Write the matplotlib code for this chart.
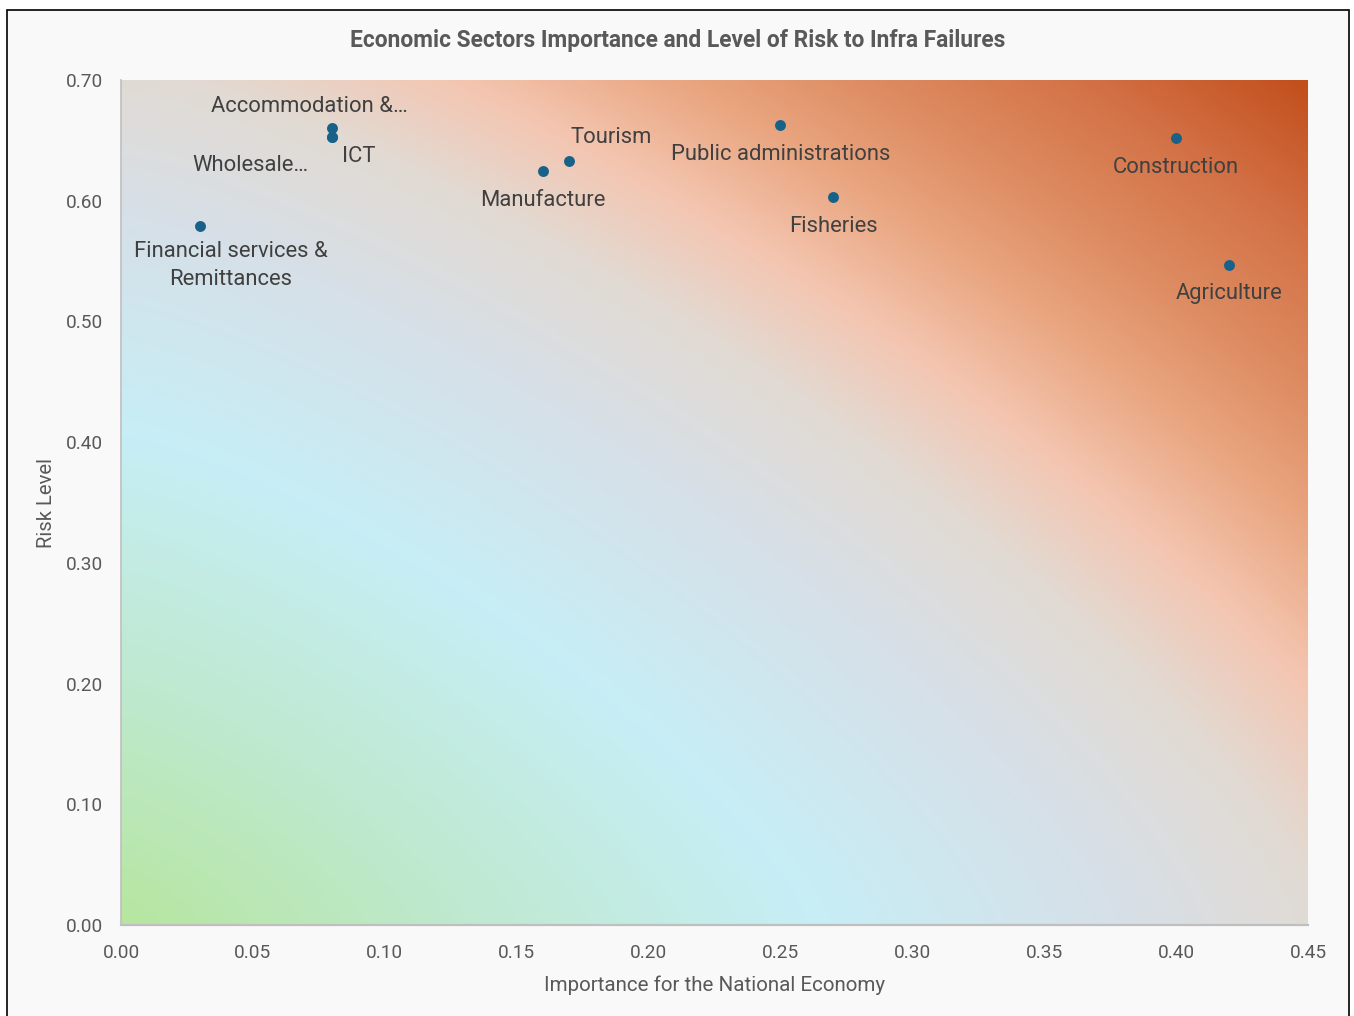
import numpy as np
import matplotlib
matplotlib.use("Agg")
import matplotlib.pyplot as plt
from matplotlib.colors import LinearSegmentedColormap
from matplotlib.patches import Rectangle

# ---- data -------------------------------------------------------------
sectors = [
    "Accommodation &…",
    "Wholesale…",
    "ICT",
    "Financial services &\nRemittances",
    "Manufacture",
    "Tourism",
    "Public administrations",
    "Fisheries",
    "Construction",
    "Agriculture",
]
importance = [0.08, 0.08, 0.08, 0.03, 0.16, 0.17, 0.25, 0.27, 0.40, 0.42]
risk = [0.660, 0.653, 0.653, 0.579, 0.625, 0.633, 0.663, 0.603, 0.652, 0.547]

x_ticks = [0.00, 0.05, 0.10, 0.15, 0.20, 0.25, 0.30, 0.35, 0.40, 0.45]
y_ticks = [0.00, 0.10, 0.20, 0.30, 0.40, 0.50, 0.60, 0.70]

title = "Economic Sectors Importance and Level of Risk to Infra Failures"
x_label = "Importance for the National Economy"
y_label = "Risk Level"

# label placement (offset in points from each marker)
label_offsets = {
    "Accommodation &…": (-16, 16),
    "Wholesale…": (-59, -21),
    "ICT": (19, -14.5),
    "Financial services &\nRemittances": (22, -28.5),
    "Manufacture": (0, -21.5),
    "Tourism": (30, 16.5),
    "Public administrations": (0, -21.5),
    "Fisheries": (0, -21),
    "Construction": (0, -21),
    "Agriculture": (0, -21),
}

# ---- styling ----------------------------------------------------------
plt.rcParams["font.family"] = ["Roboto", "DejaVu Sans"]
W, H, DPI = 1354, 1016, 100
fig = plt.figure(figsize=(W / DPI, H / DPI), dpi=DPI, facecolor="white")

# chart area frame
fig.patches.append(Rectangle((7 / W, -0.05), (1349 - 7) / W, 1.05 - 10 / H,
                             transform=fig.transFigure, facecolor="#f9f9f9",
                             edgecolor="black", linewidth=1.2, zorder=-10))

ax = fig.add_axes([121 / W, 1 - 925 / H, (1308 - 121) / W, (925 - 80) / H])
ax.set_xlim(x_ticks[0], x_ticks[-1])
ax.set_ylim(y_ticks[0], y_ticks[-1])

# background gradient fill of the plot area
p = 1.3
dmax = 2 ** (1 / p)
stops = [
    (0.00, "#b7e6a0"),
    (0.28, "#bfe9cf"),
    (0.58, "#c7eef6"),
    (0.84, "#d6e0e8"),
    (1.02, "#e2dad3"),
    (1.15, "#f4c5b0"),
    (1.28, "#e9a680"),
    (1.40, "#de8c62"),
    (1.55, "#d37146"),
    (dmax, "#c24f1c"),
]
cmap = LinearSegmentedColormap.from_list(
    "bg", [(min(d / dmax, 1.0), c) for d, c in stops])
u, v = np.meshgrid(np.linspace(0, 1, 400), np.linspace(0, 1, 300))
dist = (u ** p + v ** p) ** (1 / p) / dmax
ax.imshow(dist, cmap=cmap, vmin=0, vmax=1, origin="lower", aspect="auto",
          extent=[x_ticks[0], x_ticks[-1], y_ticks[0], y_ticks[-1]],
          interpolation="bilinear", zorder=0)

ax.scatter(importance, risk, s=62, color="#18628a", zorder=3, linewidths=0)

for name, xv, yv in zip(sectors, importance, risk):
    dx, dy = label_offsets[name]
    ax.annotate(name, (xv, yv), xytext=(dx, dy), textcoords="offset points",
                ha="center", va="center", fontsize=15.8, color="#404040",
                linespacing=1.43, zorder=4)

ax.set_xticks(x_ticks)
ax.set_yticks(y_ticks)
ax.set_xticklabels([f"{t:.2f}" for t in x_ticks])
ax.set_yticklabels([f"{t:.2f}" for t in y_ticks])
ax.tick_params(length=0, labelsize=13.7, labelcolor="#595959")
ax.tick_params(axis="x", pad=13.5)
ax.tick_params(axis="y", pad=13)

for side in ("top", "right"):
    ax.spines[side].set_visible(False)
ax.spines["left"].set_color("#bfbfbf")
ax.spines["left"].set_linewidth(1.2)
ax.spines["bottom"].set_color("#bfbfbf")
ax.spines["bottom"].set_linewidth(1.6)

ax.set_xlabel(x_label, fontsize=14.8, color="#595959", labelpad=10)
ax.set_ylabel(y_label, fontsize=14.6, color="#595959", labelpad=7)

fig.text(678 / W, 1 - 41 / H, title, ha="center", va="center",
         fontsize=16.4, fontweight="bold", color="#595959")

fig.savefig("out.png", dpi=DPI, facecolor=fig.get_facecolor())
